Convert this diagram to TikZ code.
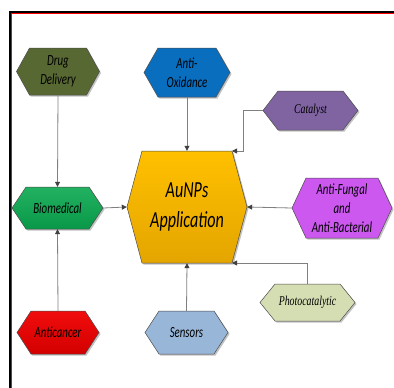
\documentclass[tikz,border=0pt]{standalone}
\usepackage{fontspec}
\newfontfamily\calfont[FakeStretch=0.7]{Carlito}
\newfontfamily\serfont[FakeStretch=0.73]{Liberation Serif}
\usetikzlibrary{arrows.meta}
\definecolor{olivec}{RGB}{88,104,50}
\definecolor{bluec}{RGB}{10,110,190}
\definecolor{purplec}{RGB}{128,100,162}
\definecolor{greenc}{RGB}{10,168,80}
\definecolor{goldtop}{RGB}{255,192,0}
\definecolor{goldbot}{RGB}{228,165,0}
\definecolor{violetc}{RGB}{204,88,240}
\definecolor{redc}{RGB}{240,0,0}
\definecolor{skyc}{RGB}{152,182,216}
\definecolor{palec}{RGB}{212,222,178}
\definecolor{linec}{RGB}{128,128,128}
\definecolor{tipc}{RGB}{64,64,64}
\definecolor{shadowc}{RGB}{195,195,195}
\tikzset{
  hexshape/.style={draw=black!70, line width=0.5pt},
  hexshadow/.style={fill=shadowc, draw=none},
  hexlabel/.style={inner sep=0pt, align=center, text=black,
    font={\calfont\itshape\fontsize{15.5}{19}\selectfont}},
  serlabel/.style={inner sep=0pt, align=center, text=black,
    font={\serfont\itshape\fontsize{13.5}{16}\selectfont}},
  biglabel/.style={inner sep=0pt, align=center, text=black,
    font={\calfont\itshape\fontsize{23}{30}\selectfont}},
  conn/.style={draw=linec, line width=0.8pt,
    -{Triangle[length=5pt,width=5pt,color=tipc]}}
}
% name, cx, cy, w, h, inset, fill options, label style, text
\newcommand{\hexnode}[9]{%
  \path[hexshadow] ({#2-#4/2+1.5},{#3+1.5}) -- ({#2-#4/2+#6+1.5},{#3-#5/2+1.5}) -- ({#2+#4/2-#6+1.5},{#3-#5/2+1.5})
    -- ({#2+#4/2+1.5},{#3+1.5}) -- ({#2+#4/2-#6+1.5},{#3+#5/2+1.5}) -- ({#2-#4/2+#6+1.5},{#3+#5/2+1.5}) -- cycle;
  \path[hexshape,#7] ({#2-#4/2},#3) -- ({#2-#4/2+#6},{#3-#5/2}) -- ({#2+#4/2-#6},{#3-#5/2})
    -- ({#2+#4/2},#3) -- ({#2+#4/2-#6},{#3+#5/2}) -- ({#2-#4/2+#6},{#3+#5/2}) -- cycle;
  \coordinate (#1-tr) at ({#2+#4/2-#6},{#3-#5/2});
  \coordinate (#1-br) at ({#2+#4/2-#6},{#3+#5/2});
  \node[#8, minimum width=#4pt, minimum height=#5pt] (#1) at (#2,#3) {#9};
}
\begin{document}
\begin{tikzpicture}[x=1pt,y=-1pt]
\useasboundingbox (0,0) rectangle (394,388);
\fill[white] (0,0) rectangle (394,388);
% frame
\draw[black, line width=2pt] (10,388) -- (10,12) -- (394,12);
\draw[red, line width=0.8pt] (11.8,388) -- (11.8,13.7) -- (394,13.7);
% hexagons
\hexnode{dd}{58}{71.5}{83}{47}{13}{fill=olivec}{hexlabel}{Drug\\Delivery}
\hexnode{ao}{187}{72.5}{86}{49}{14}{fill=bluec}{hexlabel}{Anti-\\Oxidance}
\hexnode{cat}{310.5}{110.5}{95}{39}{15}{fill=purplec}{serlabel}{Catalyst}
\hexnode{bio}{57.5}{208}{91}{42}{14}{top color=greenc!90!white,bottom color=greenc!90!black}{hexlabel}{Biomedical}
\hexnode{au}{187}{207}{120}{112}{15}{top color=goldtop,bottom color=goldbot}{biglabel}{AuNPs\\Application}
\hexnode{af}{342}{208}{100}{60}{14}{fill=violetc}{hexlabel}{Anti-Fungal\\and\\Anti-Bacterial}
\hexnode{ac}{58}{332.5}{82}{43}{14}{top color=redc!95!white,bottom color=redc!88!black}{hexlabel}{Anticancer}
\hexnode{sen}{186.5}{332.5}{83}{43}{14}{fill=skyc}{hexlabel}{Sensors}
\hexnode{ph}{307.5}{302.5}{95}{37}{15}{fill=palec}{serlabel}{Photocatalytic}
% connectors
\draw[conn] (dd.south) -- (bio.north);
\draw[conn] (ac.north) -- (bio.south);
\draw[conn] (bio.east) -- (au.west);
\draw[conn] (ao.south) -- (au.north);
\draw[conn] (sen.north) -- (au.south);
\draw[conn] (af.west) -- (au.east);
\draw[conn] (cat.west) -- ++(-19,0) |- (au-tr);
\draw[conn] (ph.north) |- (au-br);
\end{tikzpicture}
\end{document}
